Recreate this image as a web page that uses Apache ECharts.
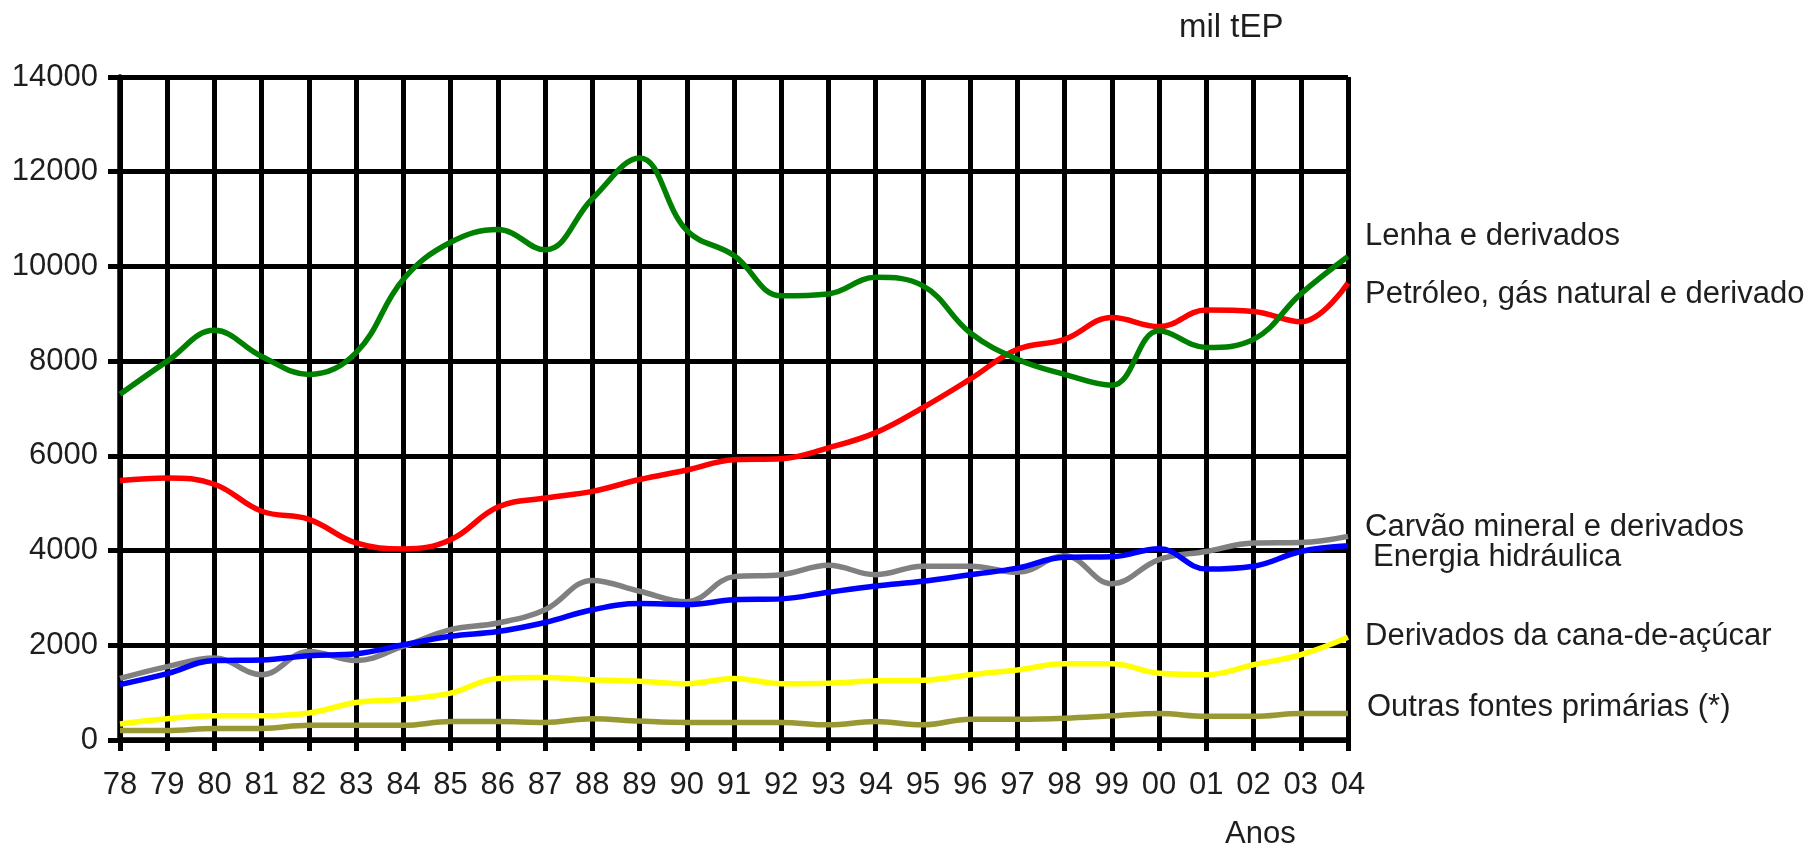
<!DOCTYPE html>
<html>
<head>
<meta charset="utf-8">
<script src="https://cdn.jsdelivr.net/npm/echarts@6/dist/echarts.min.js"></script>
<style>
html,body{margin:0;padding:0;background:#fff;}
#chart{width:1810px;height:851px;}
</style>
</head>
<body>
<div id="chart"></div>
<script>
const years = ['78','79','80','81','82','83','84','85','86','87','88','89','90','91','92','93','94','95','96','97','98','99','00','01','02','03','04'];
const yTicks = [0, 2000, 4000, 6000, 8000, 10000, 12000, 14000];

const lenha = [7300,8000,8650,8100,7720,8180,9730,10510,10780,10350,11430,12290,10760,10230,9380,9420,9770,9590,8600,8040,7720,7490,8640,8290,8460,9420,10210];
const petroleo = [5480,5535,5400,4830,4660,4160,4035,4230,4920,5110,5250,5500,5700,5920,5940,6170,6490,7020,7620,8250,8460,8920,8730,9080,9050,8830,9650];
const carvao = [1300,1550,1730,1380,1870,1680,1980,2330,2470,2750,3370,3140,2920,3450,3490,3690,3490,3670,3670,3540,3890,3300,3810,3980,4160,4170,4300];
const hidraulica = [1170,1400,1680,1690,1780,1820,2010,2190,2290,2480,2750,2880,2860,2960,2980,3120,3250,3350,3490,3630,3860,3870,4040,3610,3670,3980,4100];
const cana = [340,450,510,510,570,790,860,990,1300,1320,1270,1240,1190,1300,1190,1200,1250,1260,1380,1480,1610,1610,1410,1380,1590,1800,2170];
const outras = [200,200,245,245,310,310,310,390,390,370,450,400,370,370,370,320,390,320,440,440,460,510,560,500,500,560,560];

const names = ['Lenha e derivados','Petróleo, gás natural e derivado','Carvão mineral e derivados','Energia hidráulica','Derivados da cana-de-açúcar','Outras fontes primárias (*)'];
const colors = ['#008000','#ff0000','#808080','#0000ff','#ffff00','#999933'];

const FONT = 'Liberation Sans, Arial, sans-serif';
const TXT = '#1e1e1e';

const chart = echarts.init(document.getElementById('chart'), null, {renderer:'canvas'});

function mk(name, data, color){
  return {name:name, type:'line', data:data, smooth:0.4, symbol:'none',
    lineStyle:{color:color, width:5.5}, itemStyle:{color:color}, silent:true, animation:false};
}

const labelY = [237.5, 296, 529, 559, 637.5, 709];
const labelX = [1365, 1365, 1365, 1373, 1365, 1367];

const graphics = names.map((n,i)=>({
  type:'text', left:labelX[i], top:labelY[i]-17,
  style:{text:n, font:'31px ' + FONT, fill:TXT}
}));
graphics.push({type:'text', left:1179, top:11, style:{text:'mil tEP', font:'33px ' + FONT, fill:TXT}});
graphics.push({type:'text', left:1225, top:819, style:{text:'Anos', font:'31px ' + FONT, fill:TXT}});

chart.setOption({
  backgroundColor:'#ffffff',
  animation:false,
  grid:{left:120, right:462, top:77, bottom:111, containLabel:false},
  xAxis:{
    type:'category', data:years, boundaryGap:false,
    axisLine:{show:true, lineStyle:{color:'#000', width:5.5}},
    axisTick:{show:true, interval:0, length:11, lineStyle:{color:'#000', width:5}},
    splitLine:{show:true, interval:0, lineStyle:{color:'#000', width:5}},
    axisLabel:{interval:0, fontSize:31, color:TXT, fontFamily:FONT, margin:30}
  },
  yAxis:{
    type:'value', min:yTicks[0], max:yTicks[yTicks.length-1], interval:2000,
    axisLine:{show:true, lineStyle:{color:'#000', width:5.5}},
    axisTick:{show:true, length:12, lineStyle:{color:'#000', width:5}},
    splitLine:{show:true, lineStyle:{color:'#000', width:5}},
    axisLabel:{fontSize:31, color:TXT, fontFamily:FONT, margin:22, formatter:function(v){return String(v);}}
  },
  series:[
    mk(names[1], petroleo, colors[1]),
    mk(names[0], lenha, colors[0]),
    mk(names[2], carvao, colors[2]),
    mk(names[3], hidraulica, colors[3]),
    mk(names[4], cana, colors[4]),
    mk(names[5], outras, colors[5])
  ],
  graphic:graphics
});
</script>
</body>
</html>
